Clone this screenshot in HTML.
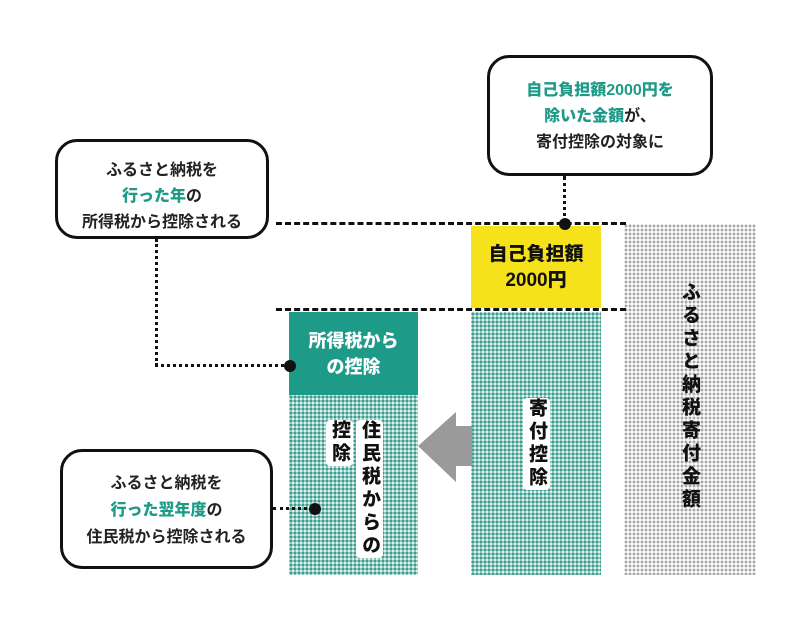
<!DOCTYPE html>
<html><head><meta charset="utf-8"><style>
body{margin:0;width:802px;height:622px;background:#fff;position:relative;overflow:hidden;font-family:"Liberation Sans","Noto Sans CJK JP",sans-serif;}
.a{position:absolute;}
.box{position:absolute;border:3px solid #111;border-radius:22px;background:#fff;text-align:center;font-size:16px;color:#222;box-sizing:border-box;font-weight:bold;}
.t{color:#1e9a88;font-weight:900;}
.tdot{background-color:#dff0ed;background-image:radial-gradient(circle,#3a9e91 52%,transparent 58%);background-size:4px 4px;}
.gdot{background-color:#fff;background-image:radial-gradient(circle,#a8a8a8 48%,transparent 55%);background-size:4px 4px;}
.vt{position:absolute;writing-mode:vertical-rl;font-weight:900;font-size:19px;color:#111;background:#fff;letter-spacing:4px;border-radius:4px;}
.dash{position:absolute;height:0;border-top:3px dashed #111;}
.dv{position:absolute;width:0;border-left:3px dotted #111;}
.dh{position:absolute;height:0;border-top:3px dotted #111;}
.dot{position:absolute;width:12px;height:12px;border-radius:50%;background:#111;}
</style></head><body>
<div class="a gdot" style="left:624px;top:224px;width:132px;height:351px"></div>
<div class="vt" style="left:676px;top:282px;background:transparent;">ふるさと納税寄付金額</div>

<div class="a" style="left:471px;top:226px;width:130px;height:82px;background:#f6e21a;text-align:center;font-weight:900;font-size:19px;line-height:26px;padding-top:16px;box-sizing:border-box;color:#111">自己負担額<br>2000円</div>
<div class="a tdot" style="left:471px;top:312px;width:130px;height:263px"></div>
<div class="vt" style="left:523px;top:398px;">寄付控除</div>

<div class="a" style="left:289px;top:312px;width:129px;height:83px;background:#1e9a88;color:#fff;text-align:center;font-weight:900;font-size:18px;line-height:26px;padding-top:16px;box-sizing:border-box">所得税から<br>の控除</div>
<div class="a tdot" style="left:289px;top:395px;width:129px;height:180px"></div>
<div class="vt" style="left:356px;top:420px;">住民税からの</div>
<div class="vt" style="left:326px;top:420px;">控除</div>

<svg class="a" style="left:416px;top:410px" width="58" height="76"><polygon points="2,36 40,2 40,16 56,16 56,56 40,56 40,72" fill="#9a9a9a"/></svg>

<div class="dash" style="left:276px;top:222px;width:350px"></div>
<div class="dash" style="left:276px;top:308px;width:350px"></div>

<div class="box" style="left:487px;top:55px;width:226px;height:121px;padding-top:20px;line-height:26px">
<span class="t">自己負担額2000円を</span><br><span class="t">除いた金額</span>が、<br>寄付控除の対象に</div>
<div class="dv" style="left:563px;top:176px;height:48px"></div>
<div class="dot" style="left:559px;top:218px"></div>

<div class="box" style="left:55px;top:139px;width:214px;height:100px;padding-top:16px;line-height:26px">ふるさと納税を<br><span class="t">行った年</span>の<br>所得税から控除される</div>
<div class="dv" style="left:155px;top:239px;height:127px"></div>
<div class="dh" style="left:155px;top:364px;width:135px"></div>
<div class="dot" style="left:284px;top:360px"></div>

<div class="box" style="left:60px;top:449px;width:213px;height:120px;padding-top:18px;line-height:27px">ふるさと納税を<br><span class="t">行った翌年度</span>の<br>住民税から控除される</div>
<div class="dh" style="left:273px;top:507px;width:40px"></div>
<div class="dot" style="left:309px;top:503px"></div>
</body></html>
